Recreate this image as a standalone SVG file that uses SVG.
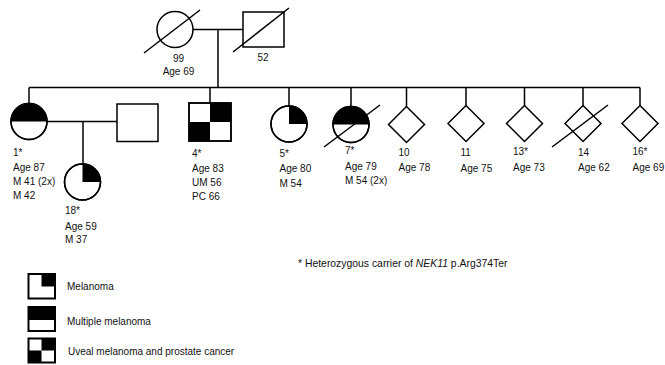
<svg xmlns="http://www.w3.org/2000/svg" width="665" height="365" viewBox="0 0 665 365">
<style>
.ln{stroke:#000;stroke-width:1.5;fill:none}
.sh{stroke:#000;stroke-width:1.5;fill:#fff}
.lg{stroke:#000;stroke-width:2;fill:none}
.bk{fill:#000;stroke:none}
text{font-family:"Liberation Sans",Arial,sans-serif;font-size:10px;fill:#111}
.mid{text-anchor:middle}
.fn{font-size:10.4px}
</style>
<defs>
<path id="dia" d="M0,-18 L18,0 L0,18 L-18,0 Z"/>
</defs>
<rect width="665" height="365" fill="#fff"/>
<g id="connectors">
<line class="ln" x1="193" y1="29.5" x2="243" y2="29.5"/>
<line class="ln" x1="218" y1="29.5" x2="218" y2="87.5"/>
<line class="ln" x1="29" y1="87.5" x2="640" y2="87.5"/>
<line class="ln" x1="29" y1="87.5" x2="29" y2="103.5"/>
<line class="ln" x1="210" y1="87.5" x2="210" y2="103"/>
<line class="ln" x1="289" y1="87.5" x2="289" y2="106"/>
<line class="ln" x1="351" y1="87.5" x2="351" y2="106.5"/>
<line class="ln" x1="406.5" y1="87.5" x2="406.5" y2="106.5"/>
<line class="ln" x1="466" y1="87.5" x2="466" y2="105.5"/>
<line class="ln" x1="524.5" y1="87.5" x2="524.5" y2="105.5"/>
<line class="ln" x1="583" y1="87.5" x2="583" y2="105.5"/>
<line class="ln" x1="640" y1="87.5" x2="640" y2="105.5"/>
<line class="ln" x1="47" y1="121.5" x2="117" y2="121.5"/>
<line class="ln" x1="83" y1="121.5" x2="83" y2="164"/>
</g>
<g id="n99">
<circle class="sh" cx="175" cy="29.5" r="18"/>
<line class="ln" x1="144" y1="53" x2="200" y2="10"/>
<text class="mid" x="178.5" y="62">99</text>
<text class="mid" x="178.5" y="75">Age 69</text>
</g>
<g id="n52">
<rect class="sh" x="243" y="12" width="41" height="35"/>
<line class="ln" x1="233" y1="52" x2="289" y2="8"/>
<text class="mid" x="263" y="61">52</text>
</g>
<g id="n1">
<circle class="sh" cx="29" cy="121.5" r="18"/>
<path class="bk" d="M11,121.5 A18,18 0 0 1 47,121.5 Z"/>
<circle class="ln" cx="29" cy="121.5" r="18"/>
<text x="13" y="155.5">1*</text>
<text x="13" y="171">Age 87</text>
<text x="13" y="185">M 41 (2x)</text>
<text x="13" y="199">M 42</text>
</g>
<g id="spouse1">
<rect class="sh" x="117" y="104" width="41" height="37.5"/>
</g>
<g id="n18">
<circle class="sh" cx="82.5" cy="182" r="18"/>
<path class="bk" d="M82.5,182 V164 A18,18 0 0 1 100.5,182 Z"/>
<circle class="ln" cx="82.5" cy="182" r="18"/>
<text x="65" y="214">18*</text>
<text x="65" y="229.5">Age 59</text>
<text x="65" y="243">M 37</text>
</g>
<g id="n4">
<rect class="sh" x="189" y="103" width="42" height="38"/>
<rect class="bk" x="210" y="103" width="21" height="19"/>
<rect class="bk" x="189" y="122" width="21" height="19"/>
<rect class="ln" x="189" y="103" width="42" height="38"/>
<text x="192" y="156.5">4*</text>
<text x="192" y="172">Age 83</text>
<text x="192" y="186">UM 56</text>
<text x="192" y="200">PC 66</text>
</g>
<g id="n5">
<circle class="sh" cx="289" cy="124" r="18"/>
<path class="bk" d="M289,124 V106 A18,18 0 0 1 307,124 Z"/>
<circle class="ln" cx="289" cy="124" r="18"/>
<text x="279.5" y="156.5">5*</text>
<text x="279.5" y="172">Age 80</text>
<text x="279.5" y="186.5">M 54</text>
</g>
<g id="n7">
<circle class="sh" cx="351" cy="124.5" r="18"/>
<path class="bk" d="M333,124.5 A18,18 0 0 1 369,124.5 Z"/>
<circle class="ln" cx="351" cy="124.5" r="18"/>
<line class="ln" x1="324" y1="147" x2="380" y2="105"/>
<text x="345" y="154">7*</text>
<text x="345" y="170">Age 79</text>
<text x="345" y="184">M 54 (2x)</text>
</g>
<g id="n10">
<use href="#dia" class="sh" x="406.5" y="124.5"/>
<text x="398.5" y="156">10</text>
<text x="398.5" y="171.3">Age 78</text>
</g>
<g id="n11">
<use href="#dia" class="sh" x="466" y="123.5"/>
<text x="460.5" y="156">11</text>
<text x="460.5" y="171.5">Age 75</text>
</g>
<g id="n13">
<use href="#dia" class="sh" x="524.5" y="123.5"/>
<text x="513" y="155.3">13*</text>
<text x="513" y="170.7">Age 73</text>
</g>
<g id="n14">
<use href="#dia" class="sh" x="583" y="123.5"/>
<line class="ln" x1="552" y1="147" x2="608" y2="105"/>
<text x="578" y="156">14</text>
<text x="578" y="171">Age 62</text>
</g>
<g id="n16">
<use href="#dia" class="sh" x="640" y="123.5"/>
<text x="632.5" y="155">16*</text>
<text x="632.5" y="171">Age 69</text>
</g>
<g id="footnote">
<text class="fn" x="298" y="267.3">* Heterozygous carrier of <tspan font-style="italic">NEK11</tspan> p.Arg374Ter</text>
</g>
<g id="legend">
<g id="leg-melanoma">
<rect class="bk" x="41.5" y="274" width="13.5" height="12.5"/>
<rect class="lg" x="28.5" y="274" width="26.5" height="24.5"/>
<text x="67" y="290">Melanoma</text>
</g>
<g id="leg-multiple">
<rect class="bk" x="28.5" y="307" width="26.5" height="13"/>
<rect class="lg" x="28.5" y="307" width="26.5" height="24"/>
<text x="67" y="324.5">Multiple melanoma</text>
</g>
<g id="leg-uveal">
<rect class="bk" x="41.5" y="338.5" width="13.5" height="12"/>
<rect class="bk" x="28.5" y="350.5" width="13" height="12"/>
<rect class="lg" x="28.5" y="338.5" width="26.5" height="24"/>
<text x="68" y="355">Uveal melanoma and prostate cancer</text>
</g>
</g>
</svg>
